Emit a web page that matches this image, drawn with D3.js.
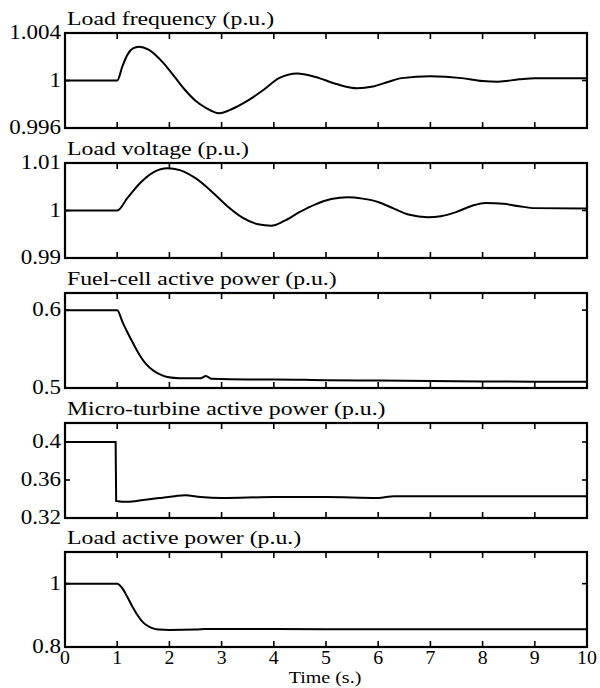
<!DOCTYPE html>
<html>
<head>
<meta charset="utf-8">
<script src="https://cdn.jsdelivr.net/npm/d3@7"></script>
<style>
  body { margin: 0; background: #fff; }
  svg text { font-family: "Liberation Serif", "DejaVu Serif", serif; fill: #000; }
</style>
</head>
<body>
<svg id="chart" width="600" height="688"></svg>
<script>
// time ticks
const timeTicks = [0, 1, 2, 3, 4, 5, 6, 7, 8, 9, 10];

// Load frequency (p.u.)
const freqT = [0, 1.0, 1.1, 1.2, 1.3, 1.42, 1.6, 1.9, 2.1, 2.3, 2.5, 2.7, 2.95, 3.2, 3.5, 3.8, 4.1, 4.45, 4.8, 5.2, 5.6, 5.9, 6.2, 6.45, 7.0, 7.6, 8.0, 8.3, 8.7, 9.0, 10];
const freqV = [1.0, 1.0, 1.0012, 1.0022, 1.0027, 1.00285, 1.0026, 1.0014, 1.0003, 0.9992, 0.9983, 0.9977, 0.99725, 0.9976, 0.9983, 0.9992, 1.0002, 1.0006, 1.0003, 0.9997, 0.99935, 0.9995, 0.9999, 1.0002, 1.00035, 1.0002, 0.99995, 0.9999, 1.0001, 1.0002, 1.0002];

// Load voltage (p.u.)
const voltT = [0, 1, 1.2, 1.44, 1.7, 1.96, 2.2, 2.5, 2.85, 3.1, 3.4, 3.7, 3.95, 4.2, 4.5, 4.8, 5.1, 5.42, 5.7, 6.0, 6.3, 6.6, 6.95, 7.2, 7.5, 7.8, 8.06, 8.4, 8.7, 9.0, 10];
const voltV = [1.0, 1.0, 1.0027, 1.0058, 1.0081, 1.0089, 1.0085, 1.0068, 1.0036, 1.0010, 0.9985, 0.9971, 0.9968, 0.9978, 0.9997, 1.0013, 1.0024, 1.0028, 1.0025, 1.0018, 1.0004, 0.9991, 0.9986, 0.9988, 0.9997, 1.0010, 1.0016, 1.0014, 1.0009, 1.0005, 1.0004];

// Fuel-cell active power (p.u.)
const fuelT = [0, 1.0, 1.1, 1.2, 1.3, 1.44, 1.55, 1.7, 1.8, 1.96, 2.2, 2.6, 2.7, 2.8, 3.5, 4, 5, 6, 7, 8, 9, 10];
const fuelV = [0.6, 0.6, 0.585, 0.571, 0.558, 0.541, 0.531, 0.522, 0.518, 0.514, 0.5125, 0.5125, 0.5155, 0.512, 0.511, 0.511, 0.510, 0.5095, 0.509, 0.5085, 0.508, 0.508];

// Micro-turbine active power (p.u.)
const mtT = [0, 0.97, 0.98, 1.2, 1.5, 1.8, 2.1, 2.3, 2.6, 3.0, 4.0, 5.0, 6.0, 6.3, 7.0, 10];
const mtV = [0.4, 0.4, 0.338, 0.337, 0.339, 0.341, 0.343, 0.344, 0.342, 0.341, 0.342, 0.342, 0.341, 0.343, 0.343, 0.343];

// Load active power (p.u.)
const loadT = [0, 1.0, 1.1, 1.2, 1.3, 1.4, 1.5, 1.6, 1.7, 1.8, 2.0, 2.5, 2.7, 3.0, 5.0, 10];
const loadV = [1.0, 1.0, 0.985, 0.956, 0.925, 0.898, 0.877, 0.865, 0.858, 0.855, 0.854, 0.855, 0.857, 0.857, 0.856, 0.856];

const titles = ["Load frequency (p.u.)", "Load voltage (p.u.)", "Fuel-cell active power (p.u.)",
  "Micro-turbine active power (p.u.)", "Load active power (p.u.)"];
const yDomains = [[0.996, 1.004], [0.99, 1.01], [0.5, 0.622], [0.32, 0.42], [0.8, 1.1]];
const yTicks = [[0.996, 1, 1.004], [0.99, 1, 1.01], [0.5, 0.6], [0.32, 0.36, 0.4], [0.8, 1]];
const yTickLabels = [["0.996", "1", "1.004"], ["0.99", "1", "1.01"], ["0.5", "0.6"], ["0.32", "0.36", "0.4"], ["0.8", "1"]];

const series = [[freqT, freqV], [voltT, voltV], [fuelT, fuelV], [mtT, mtV], [loadT, loadV]];
const panelTops = [33, 163, 293, 423, 552];
const panelH = 95;

const svg = d3.select("#chart");
const x = d3.scaleLinear().domain([0, 10]).range([65, 587]);

// stretch text horizontally like the scanned figure
function stretch(sel, k) {
  sel.each(function () {
    const w = this.getComputedTextLength();
    d3.select(this).attr("textLength", w * k).attr("lengthAdjust", "spacingAndGlyphs");
  });
}

series.forEach(([ts, vs], i) => {
  const top = panelTops[i];
  const y = d3.scaleLinear().domain(yDomains[i]).range([top + panelH, top]);
  const g = svg.append("g");

  // title
  g.append("text")
    .attr("x", 67)
    .attr("y", top - 8)
    .attr("font-size", "19px")
    .text(titles[i])
    .call(stretch, 1.25);

  // y tick labels
  g.selectAll(".ylab")
    .data(yTicks[i])
    .enter().append("text")
    .attr("x", 61)
    .attr("y", d => y(d) + 6)
    .attr("text-anchor", "end")
    .attr("font-size", "20px")
    .text((d, j) => yTickLabels[i][j])
    .call(stretch, 1.15);

  // inward ticks
  const xt = timeTicks.slice(1, -1);
  g.selectAll(".tb")
    .data(xt)
    .enter().append("line")
    .attr("x1", d => x(d)).attr("x2", d => x(d))
    .attr("y1", top).attr("y2", top + 6)
    .attr("stroke", "#000").attr("stroke-width", 1.6);
  g.selectAll(".tt")
    .data(xt)
    .enter().append("line")
    .attr("x1", d => x(d)).attr("x2", d => x(d))
    .attr("y1", top + panelH).attr("y2", top + panelH - 6)
    .attr("stroke", "#000").attr("stroke-width", 1.6);
  const yt = yTicks[i].filter(d => d > yDomains[i][0] && d < yDomains[i][1]);
  g.selectAll(".tl")
    .data(yt)
    .enter().append("line")
    .attr("x1", x.range()[0]).attr("x2", x.range()[0] + 5)
    .attr("y1", d => y(d)).attr("y2", d => y(d))
    .attr("stroke", "#000").attr("stroke-width", 1.6);
  g.selectAll(".tr")
    .data(yt)
    .enter().append("line")
    .attr("x1", x.range()[1]).attr("x2", x.range()[1] - 5)
    .attr("y1", d => y(d)).attr("y2", d => y(d))
    .attr("stroke", "#000").attr("stroke-width", 1.6);

  // curve
  const pts = ts.map((t, j) => [t, vs[j]]);
  g.append("path")
    .datum(pts)
    .attr("fill", "none")
    .attr("stroke", "#000")
    .attr("stroke-width", 2)
    .attr("d", d3.line().x(d => x(d[0])).y(d => y(d[1])).curve(d3.curveMonotoneX));

  // frame
  g.append("rect")
    .attr("x", x.range()[0])
    .attr("y", top)
    .attr("width", x.range()[1] - x.range()[0])
    .attr("height", panelH)
    .attr("fill", "none")
    .attr("stroke", "#000")
    .attr("stroke-width", 2.2);

  if (i === series.length - 1) {
    g.selectAll(".xlab")
      .data(timeTicks)
      .enter().append("text")
      .attr("x", d => x(d))
      .attr("y", top + panelH + 17)
      .attr("text-anchor", "middle")
      .attr("font-size", "18px")
      .text(d => d)
      .call(stretch, 1.1);

    svg.append("text")
      .attr("x", 325)
      .attr("y", 683)
      .attr("text-anchor", "middle")
      .attr("font-size", "16px")
      .text("Time (s.)")
      .call(stretch, 1.25);
  }
});
</script>
</body>
</html>
